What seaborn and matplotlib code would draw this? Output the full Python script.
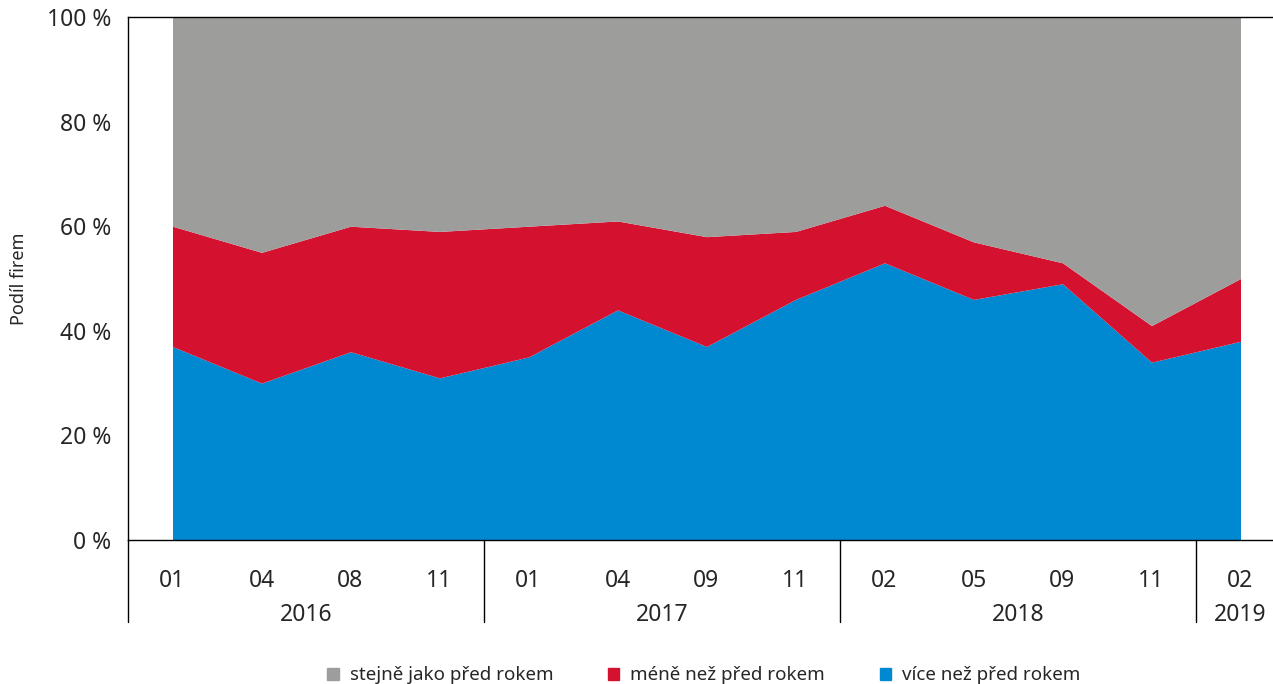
import matplotlib
matplotlib.use("Agg")
import matplotlib.pyplot as plt
from matplotlib.patches import Patch
import numpy as np
import seaborn as sns

months = ["01", "04", "08", "11", "01", "04", "09", "11", "02", "05", "09", "11", "02"]
years = ["2016", "2017", "2018", "2019"]
year_counts = [4, 4, 4, 1]

vice = [37, 30, 36, 31, 35, 44, 37, 46, 53, 46, 49, 34, 38]
mene = [23, 25, 24, 28, 25, 17, 21, 13, 11, 11, 4, 7, 12]
stejne = [40, 45, 40, 41, 40, 39, 42, 41, 36, 43, 47, 59, 50]

labels = ["více než před rokem", "méně než před rokem", "stejně jako před rokem"]
colors = ["#0089d1", "#d51130", "#9d9d9c"]

sns.set_theme(style="white")
plt.rcParams["font.family"] = ["Noto Sans", "DejaVu Sans"]

fig = plt.figure(figsize=(12.73, 6.84), dpi=100)
ax = fig.add_axes([128 / 1273, 144 / 684, 1157 / 1273, 523 / 684])

x = np.arange(len(months))
ax.stackplot(x, vice, mene, stejne, colors=colors, linewidth=0)

ax.set_xlim(-0.5, len(months) - 0.5)
ax.set_ylim(0, 100)
ax.set_yticks([0, 20, 40, 60, 80, 100])
ax.set_yticklabels([f"{v} %" for v in range(0, 101, 20)], fontsize=16.5)
ax.tick_params(axis="y", direction="in", length=21, width=1, color="#555555", pad=12)
ax.set_xticks(x)
ax.set_xticklabels(months, fontsize=16.5)
ax.tick_params(axis="x", length=0, pad=21)
ax.set_ylabel("Podíl firem", fontsize=13, labelpad=14)

for s in ["top", "left", "bottom"]:
    ax.spines[s].set_color("black")
    ax.spines[s].set_linewidth(1)
ax.spines["right"].set_visible(False)

# year separators and year labels
trans = ax.get_xaxis_transform()
ax.plot([-0.5, -0.5], [0, -0.157], color="black", lw=1, transform=trans, clip_on=False)
start = 0
for yr, n in zip(years, year_counts):
    ax.text(start + (n - 1) / 2, -0.143, yr, ha="center", va="center", fontsize=16.5, transform=trans)
    start += n
    if start < len(months):
        ax.plot([start - 0.5, start - 0.5], [0, -0.157], color="black", lw=1, transform=trans, clip_on=False)

handles = [Patch(color=c) for c in colors[::-1]]
fig.legend(handles, labels[::-1], loc="lower center", bbox_to_anchor=(0.553, -0.025), ncol=3,
           frameon=False, fontsize=13.5, handlelength=0.6, handleheight=0.6,
           handletextpad=0.6, columnspacing=2.9)

fig.savefig("out.png", dpi=100)
